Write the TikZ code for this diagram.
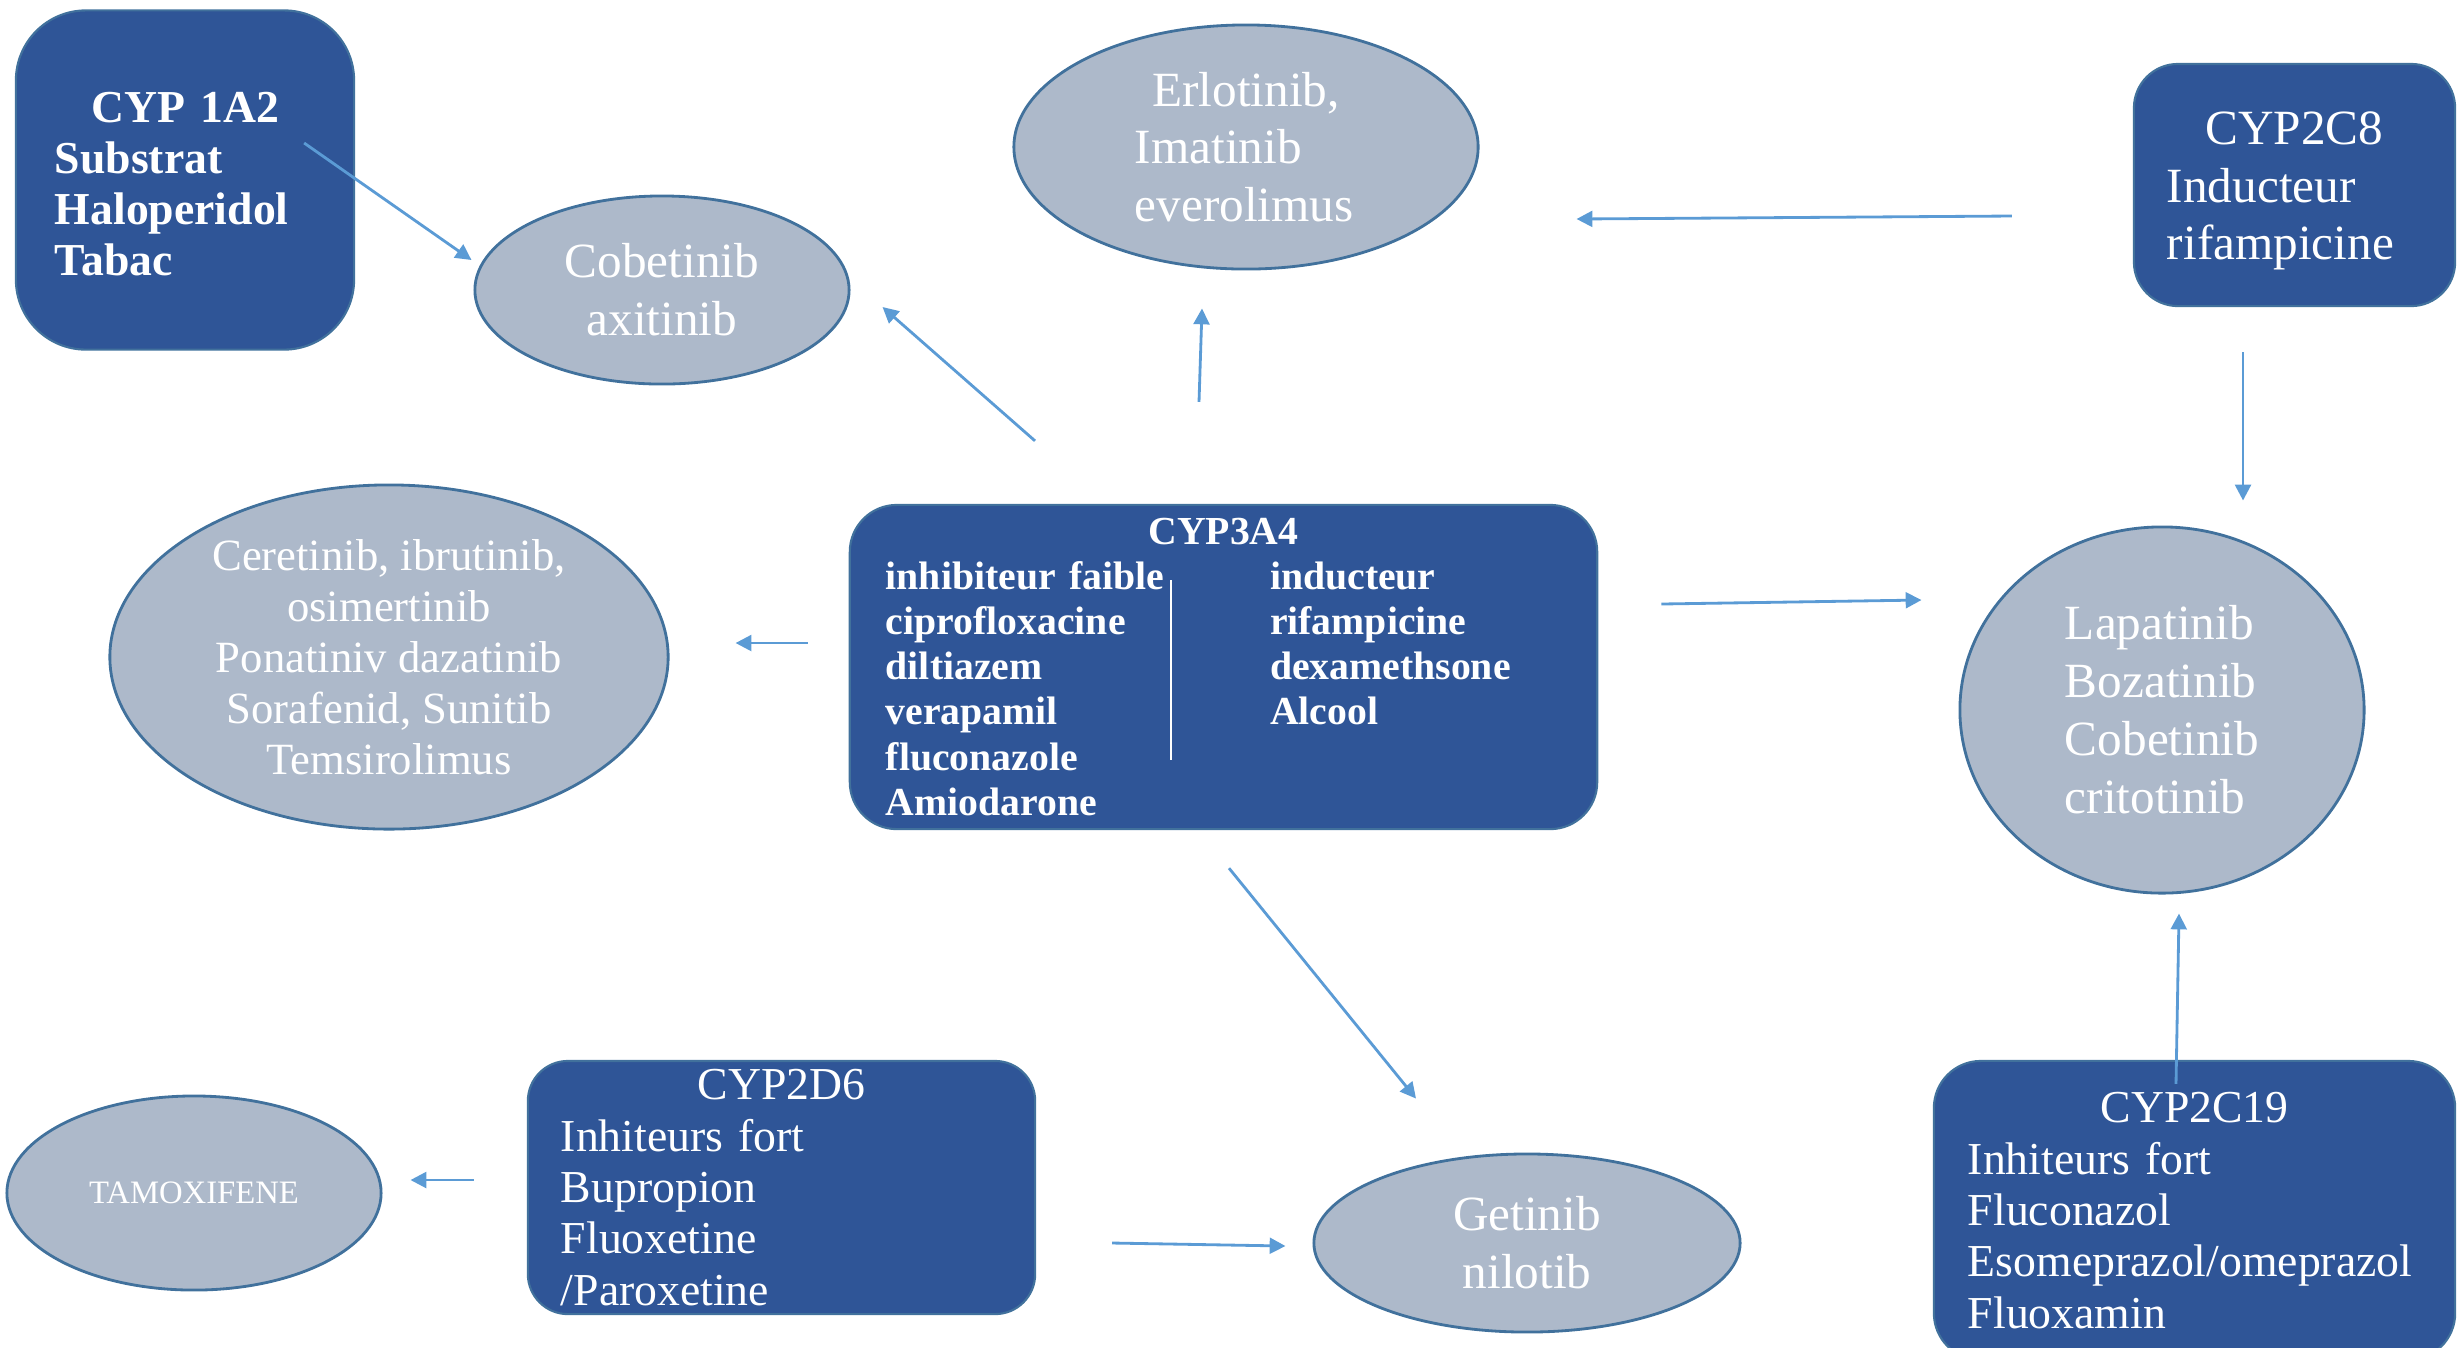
\documentclass[tikz,border=0pt]{standalone}
\usepackage{fontspec}
\setmainfont{Liberation Serif}
\usetikzlibrary{shapes.geometric,arrows.meta,calc}
\definecolor{cypfill}{HTML}{2F5597}
\definecolor{cypedge}{HTML}{41719C}
\definecolor{drugfill}{HTML}{ADB9CA}
\definecolor{drugedge}{HTML}{41719C}
\definecolor{arrowblue}{HTML}{5B9BD5}
\begin{document}
\begin{tikzpicture}[x=0.01cm,y=-0.01cm,
		cyp/.style={rectangle,fill=cypfill,draw=cypedge,line width=0.6pt,text=white,inner ysep=0pt,align=left},
		drug/.style={ellipse,fill=drugfill,draw=drugedge,line width=0.8pt,text=white,inner sep=0pt,align=center},
		arr/.style={draw=arrowblue,line width=0.8pt,-{Triangle[length=4.5pt,width=4.5pt]}}]
	\useasboundingbox (0,0) rectangle (2458,1347);
	\node[cyp,rounded corners=0.7cm,minimum width=3.38cm,minimum height=3.39cm,inner xsep=0.39cm,text width=2.6cm,font=\fontsize{13}{14.5}\selectfont\bfseries] (cyp1a2) at (185,180) {\makebox[\linewidth]{\rule{0pt}{11pt}CYP 1A2}\\Substrat\\Haloperidol\\Tabac};
	\node[drug,minimum width=3.74cm,minimum height=1.88cm,font=\fontsize{14}{16.5}\selectfont] (cobet) at (662,290) {Cobetinib\\axitinib};
	\node[drug,minimum width=4.64cm,minimum height=2.44cm,text width=2.22cm,align=left,font=\fontsize{14}{16.3}\selectfont] (erlo) at (1246,147) {\makebox[\linewidth]{Erlotinib,}\\Imatinib\\everolimus};
	\node[cyp,rounded corners=0.44cm,minimum width=3.21cm,minimum height=2.42cm,inner xsep=0.33cm,text width=2.55cm,font=\fontsize{14}{16.3}\selectfont] (cyp2c8) at (2294.5,185) {\makebox[\linewidth]{\rule{0pt}{12.7pt}CYP2C8}\\Inducteur\\rifampicine};
	\node[drug,minimum width=5.58cm,minimum height=3.44cm,font=\fontsize{12.7}{14.5}\selectfont] (ceret) at (389,657) {Ceretinib, ibrutinib,\\osimertinib\\Ponatiniv dazatinib\\Sorafenid, Sunitib\\Temsirolimus};
	\node[cyp,rounded corners=0.47cm,minimum width=7.47cm,minimum height=3.24cm,inner xsep=0.36cm,text width=6.75cm,font=\fontsize{11.3}{12.8}\selectfont\bfseries] (cyp3a4) at (1223.5,667) {\makebox[\linewidth]{CYP3A4}\\\makebox[3.84cm][l]{inhibiteur faible}inducteur\\\makebox[3.84cm][l]{ciprofloxacine}rifampicine\\\makebox[3.84cm][l]{diltiazem}dexamethsone\\\makebox[3.84cm][l]{verapamil}Alcool\\fluconazole\\Amiodarone};
	\draw[white,line width=0.5pt] ($(cyp3a4)+(-52.5,-87)$) -- ($(cyp3a4)+(-52.5,93)$);
	\node[drug,minimum width=4.04cm,minimum height=3.66cm,align=left,font=\fontsize{14}{16.5}\selectfont] (lapat) at (2162,710) {Lapatinib\\Bozatinib\\Cobetinib\\critotinib};
	\node[drug,minimum width=3.74cm,minimum height=1.94cm,font=\fontsize{9.3}{11}\selectfont] (tamox) at (194,1193) {TAMOXIFENE};
	\node[cyp,rounded corners=0.4cm,minimum width=5.07cm,minimum height=2.53cm,inner xsep=0.33cm,text width=4.41cm,font=\fontsize{13}{14.6}\selectfont] (cyp2d6) at (781.5,1187.5) {\makebox[\linewidth]{CYP2D6}\\Inhiteurs fort\\Bupropion\\Fluoxetine\\/Paroxetine};
	\node[drug,minimum width=4.26cm,minimum height=1.78cm,font=\fontsize{14}{16.5}\selectfont] (getin) at (1527,1243) {Getinib\\nilotib};
	\node[cyp,rounded corners=0.47cm,minimum width=5.21cm,minimum height=2.99cm,inner xsep=0.34cm,text width=4.53cm,font=\fontsize{13}{14.6}\selectfont] (cyp2c19) at (2194.5,1210.5) {\makebox[\linewidth]{CYP2C19}\\Inhiteurs fort\\Fluconazol\\Esomeprazol/omeprazol\\Fluoxamin};
	\draw[arr] ($(cyp1a2.east)+(-51,-37)$) -- ($(cobet.west)+(-2,-30)$);
	\draw[arr] ($(cyp3a4.north)+(-188.5,-63)$) -- ($(cobet.east)+(32,17)$);
	\draw[arr] ($(cyp3a4.north)+(-24.5,-102)$) -- ($(erlo.south)+(-44,38)$);
	\draw[arr] ($(cyp2c8.west)+(-121,31)$) -- ($(erlo.east)+(97,72)$);
	\draw[arr] ($(cyp2c8.south)+(-51.5,45)$) -- ($(lapat.north)+(81,-25)$);
	\draw[arr] ($(cyp3a4.west)+(-41,-24)$) -- ($(ceret.east)+(66,-14)$);
	\draw[arr] ($(cyp3a4.east)+(63,-63)$) -- ($(lapat.west)+(-37,-110)$);
	\draw[arr] ($(cyp3a4.south)+(5.5,38)$) -- ($(getin.north)+(-111,-54)$);
	\draw[arr] ($(cyp2d6.west)+(-53,-7.5)$) -- ($(tamox.east)+(28,-13)$);
	\draw[arr] ($(cyp2d6.east)+(76,55.5)$) -- ($(getin.west)+(-27,3)$);
	\draw[arr] ($(cyp2c19.north)+(-18.5,24)$) -- ($(lapat.south)+(17,19)$);
\end{tikzpicture}
\end{document}
